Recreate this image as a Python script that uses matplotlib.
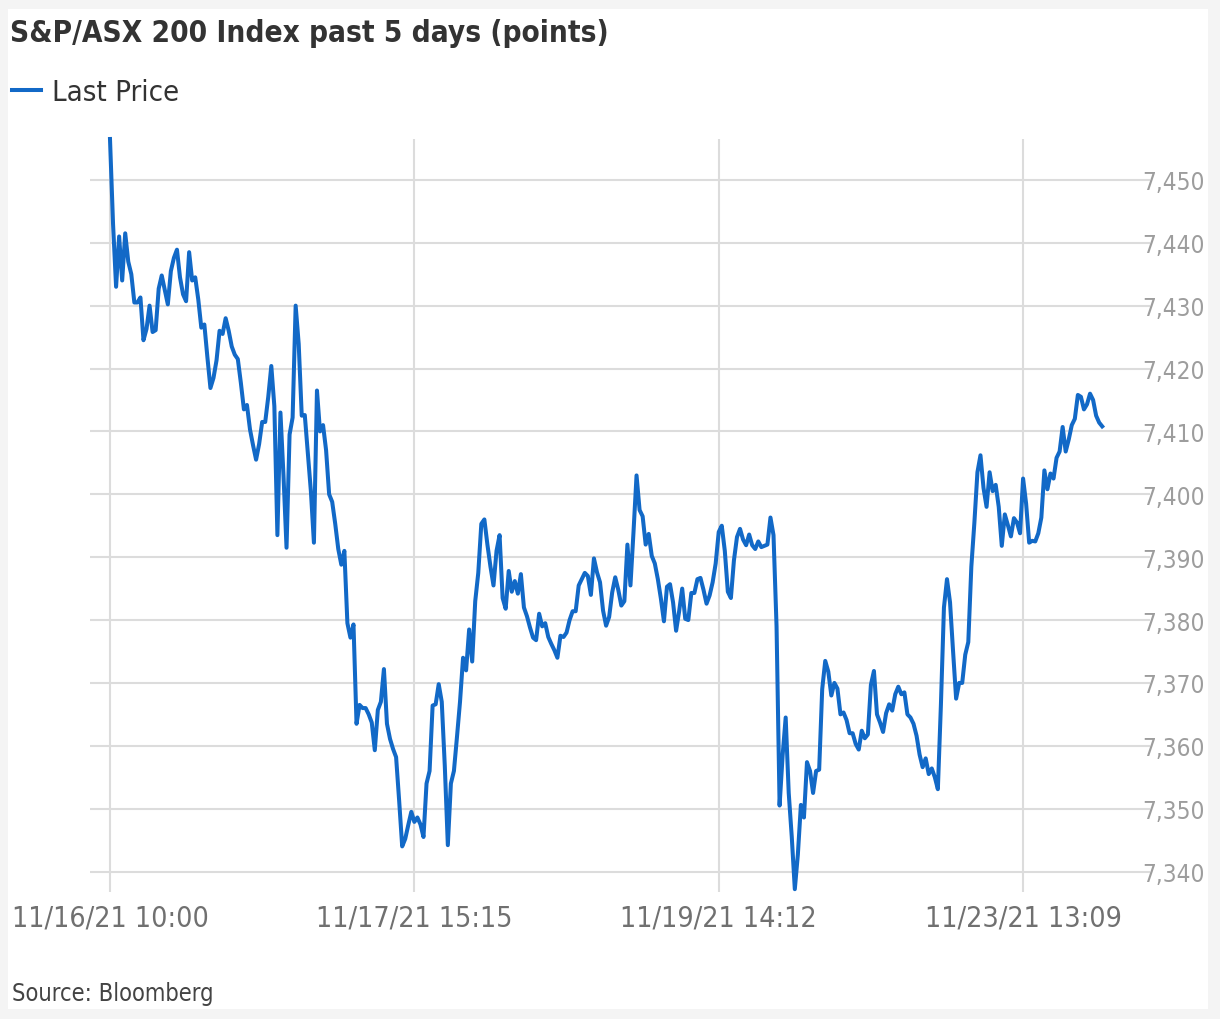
import numpy as np
import matplotlib.pyplot as plt
from matplotlib.patches import Rectangle
from matplotlib.lines import Line2D

# chart data: S&P/ASX 200 last price, equally spaced samples
prices = [
    7456.5, 7443.0, 7433.0, 7441.0, 7434.0, 7441.5, 7437.0, 7435.0, 7430.5, 7430.5,
    7431.3, 7424.5, 7426.3, 7430.0, 7425.8, 7426.1, 7432.7, 7434.8, 7432.5, 7430.2,
    7435.5, 7437.6, 7438.9, 7434.5, 7431.8, 7430.7, 7438.5, 7434.0, 7434.5, 7431.0,
    7426.5, 7427.0, 7421.8, 7416.9, 7418.5, 7421.3, 7426.0, 7425.5, 7428.0, 7426.0,
    7423.5, 7422.2, 7421.5, 7417.7, 7413.5, 7414.2, 7410.3, 7407.8, 7405.5, 7408.0,
    7411.5, 7411.5, 7415.5, 7420.4, 7414.0, 7393.5, 7413.0, 7403.0, 7391.5, 7409.5,
    7412.2, 7430.0, 7423.9, 7412.5, 7412.6, 7406.5, 7400.5, 7392.3, 7416.5, 7410.0,
    7411.0, 7407.0, 7400.0, 7398.8, 7395.3, 7391.3, 7388.8, 7391.0, 7379.5, 7377.2,
    7379.3, 7363.5, 7366.5, 7366.0, 7366.0, 7365.0, 7363.7, 7359.3, 7365.7, 7367.0,
    7372.2, 7363.5, 7361.1, 7359.5, 7358.2, 7351.3, 7344.0, 7345.2, 7347.4, 7349.5,
    7347.9, 7348.6, 7347.5, 7345.5, 7354.0, 7356.0, 7366.4, 7366.6, 7369.8, 7367.0,
    7356.8, 7344.2, 7354.0, 7356.0, 7361.4, 7367.0, 7374.0, 7372.0, 7378.5, 7373.4,
    7383.0, 7387.5, 7395.3, 7396.0, 7392.0, 7388.5, 7385.5, 7391.0, 7393.5, 7383.5,
    7381.8, 7387.8, 7384.5, 7386.2, 7384.2, 7387.3, 7382.0, 7380.6, 7378.8, 7377.2,
    7376.8, 7381.0, 7379.0, 7379.5, 7377.3, 7376.2, 7375.2, 7374.0, 7377.5, 7377.3,
    7378.0, 7380.0, 7381.4, 7381.4, 7385.5, 7386.5, 7387.5, 7387.0, 7384.0, 7389.8,
    7387.6, 7386.0, 7381.5, 7379.1, 7380.5, 7384.4, 7386.8, 7384.8, 7382.3, 7383.0,
    7392.0, 7385.5, 7394.0, 7403.0, 7397.5, 7396.5, 7392.0, 7393.7, 7390.2, 7389.0,
    7386.5, 7383.4, 7379.8, 7385.3, 7385.7, 7382.8, 7378.3, 7381.4, 7385.0, 7380.2,
    7380.0, 7384.3, 7384.3, 7386.5, 7386.7, 7384.8, 7382.6, 7383.9, 7386.0, 7389.0,
    7394.0, 7395.0, 7391.0, 7384.5, 7383.5, 7389.5, 7393.2, 7394.5, 7392.8, 7391.9,
    7393.6, 7391.9, 7391.3, 7392.5, 7391.6, 7391.8, 7392.0, 7396.3, 7393.5, 7379.0,
    7350.5, 7358.5, 7364.5, 7352.5, 7345.5, 7337.2, 7342.7, 7350.6, 7348.6, 7357.4,
    7356.0, 7352.5, 7356.0, 7356.2, 7369.0, 7373.5, 7371.8, 7368.0, 7370.0, 7369.1,
    7365.0, 7365.3, 7364.1, 7362.0, 7362.0, 7360.3, 7359.4, 7362.4, 7361.2, 7361.8,
    7369.7, 7371.9, 7365.0, 7363.7, 7362.2, 7365.2, 7366.6, 7365.6, 7368.2, 7369.4,
    7368.2, 7368.5, 7365.0, 7364.5, 7363.5, 7361.6, 7358.6, 7356.6, 7358.0, 7355.5,
    7356.4, 7355.0, 7353.1, 7366.5, 7382.0, 7386.5, 7382.8, 7375.0, 7367.5, 7370.0,
    7370.0, 7374.5, 7376.5, 7388.5, 7395.5, 7403.5, 7406.2, 7401.0, 7398.0, 7403.5,
    7400.5, 7401.5, 7398.0, 7391.8, 7396.8, 7395.1, 7393.3, 7396.2, 7395.5, 7393.8,
    7402.5, 7398.5, 7392.3, 7392.6, 7392.5, 7393.8, 7396.3, 7403.8, 7400.8, 7403.3,
    7402.5, 7405.8, 7406.8, 7410.7, 7406.8, 7408.7, 7411.0, 7412.0, 7415.8, 7415.5,
    7413.5, 7414.3, 7416.0, 7415.0, 7412.5, 7411.4, 7410.8,
]
tick_pos = [0, 100, 200, 300]
tick_labels = ["11/16/21 10:00", "11/17/21 15:15", "11/19/21 14:12", "11/23/21 13:09"]
y_ticks = [7340, 7350, 7360, 7370, 7380, 7390, 7400, 7410, 7420, 7430, 7440, 7450]

W, H, DPI = 1220, 1020, 100
LINE = "#1269c7"
FONT = dict(family="DejaVu Sans", stretch="condensed")

fig = plt.figure(figsize=(W / DPI, H / DPI), dpi=DPI)
fig.patch.set_facecolor("#f4f4f4")
fig.add_artist(Rectangle((8 / W, 1 - 1010 / H), 1200 / W, 1000 / H,
                         transform=fig.transFigure, facecolor="white",
                         edgecolor="none", zorder=-1))

ax = fig.add_axes([90 / W, 1 - 893 / H, (1150 - 90) / W, (893 - 140) / H])
ax.set_facecolor("none")
x = np.arange(len(prices))
ax.plot(x, prices, color=LINE, lw=2.9, solid_joinstyle="round", clip_on=False)

ax.set_xlim(-6.57, 341.7)
ax.set_ylim(7336.75, 7456.5)
ax.set_xticks(tick_pos)
ax.set_xticklabels(tick_labels, color="#707070", fontsize=20.5, **FONT)
ax.set_yticks(y_ticks)
ax.set_yticklabels([f"{v:,}" for v in y_ticks], color="#9d9d9d", fontsize=17.5,
                   ha="right", **FONT)
ax.yaxis.tick_right()
ax.tick_params(axis="both", length=0)
ax.tick_params(axis="x", pad=8)
ax.tick_params(axis="y", pad=(1205 - 1150) * 72 / DPI)
ax.grid(True, color="#dcdcdc", lw=1.5)
ax.set_axisbelow(True)
for s in ax.spines.values():
    s.set_visible(False)

fig.text(10 / W, 1 - 33 / H, "S&P/ASX 200 Index past 5 days (points)", fontsize=21.3,
         fontweight="bold", color="#333333", va="center", ha="left", **FONT)
fig.legend(handles=[Line2D([], [], color=LINE, lw=2.9)], labels=["Last Price"],
           loc="center left", bbox_to_anchor=(12 / W, 1 - 93 / H), frameon=False,
           borderaxespad=0, borderpad=0, handlelength=1.0, handletextpad=0.38,
           prop=dict(size=21, **FONT), labelcolor="#333333")
fig.text(12 / W, 1 - 994 / H, "Source: Bloomberg", fontsize=17, color="#444444",
         va="center", ha="left", **FONT)

fig.savefig("out.png", dpi=DPI, facecolor=fig.get_facecolor())
